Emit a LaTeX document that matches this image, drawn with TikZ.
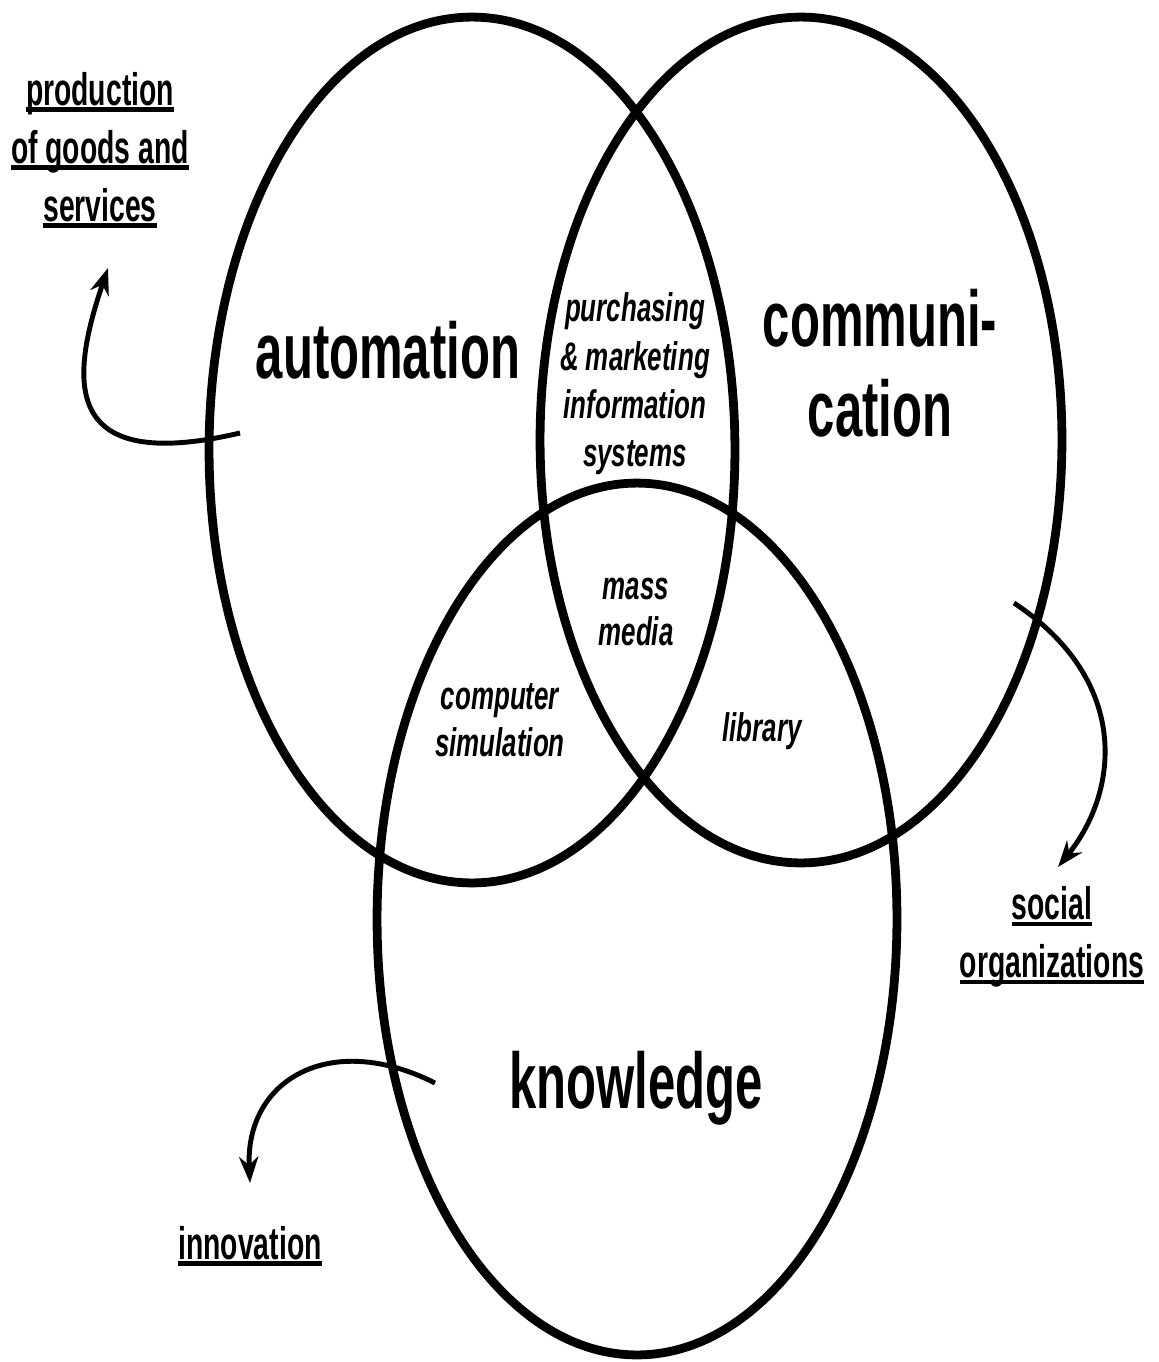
\documentclass[tikz,border=0pt]{standalone}
\usepackage{fontspec}
\setmainfont{Liberation Sans}
\newfontfamily\condfont[FakeStretch=0.62]{Liberation Sans}
\newfontfamily\slantfont[FakeStretch=0.65]{Liberation Sans}
\usetikzlibrary{arrows.meta}
\newcommand{\ulbar}[1]{\setbox0\hbox{#1}\rlap{\rule[-3.5pt]{\wd0}{2.4pt}}\box0}

\begin{document}
\begin{tikzpicture}[x=0.02cm,y=-0.02cm,>={Stealth[length=15pt,width=11pt]},semithick]
    \tikzset{ring/.style={line width=5pt},
             flow/.style={->,line width=2.8pt},
             big/.style={font=\condfont\bfseries\fontsize{45}{51}\selectfont,align=center,inner sep=0pt},
             small/.style={font=\slantfont\bfseries\itshape\fontsize{22.7}{27.5}\selectfont,align=center,inner sep=0pt},
             goal/.style={font=\condfont\bfseries\fontsize{26}{33}\selectfont,align=center,inner sep=0pt}}
    \useasboundingbox (0,0) rectangle (1159,1362);
    \coordinate (auto) at (472,450);
    \coordinate (comm) at (801,440);
    \coordinate (know) at (637,919);
    \draw[ring] (auto) ellipse [x radius=5.26cm, y radius=8.66cm];
    \draw[ring] (comm) ellipse [x radius=5.22cm, y radius=8.46cm];
    \draw[ring] (know) ellipse [x radius=5.2cm, y radius=8.72cm];
    \node[big] (automation) at (388,350) {automation};
    \node[big] (communication) at (880,363) {communi-\\cation};
    \node[big] (knowledge) at (636,1088) {knowledge};
    \node[small] (purchasing) at (635,384) {purchasing\\\& marketing\\information\\systems};
    \node[small,font=\slantfont\bfseries\itshape\fontsize{22.7}{26.6}\selectfont] (media) at (636,612) {mass\\media};
    \node[small,font=\slantfont\bfseries\itshape\fontsize{22.7}{26.6}\selectfont] (simulation) at (500,720) {computer\\simulation};
    \node[small] (library) at (762,731) {library};
    \node[goal] (production) at (100,150) {\ulbar{production}\\\ulbar{of goods and}\\\ulbar{services}};
    \node[goal] (social) at (1052,937) {\ulbar{social}\\\ulbar{organizations}};
    \node[goal] (innovation) at (250,1246) {\ulbar{innovation}};
    \coordinate (autotail) at (240,433);
    \coordinate (prodtip) at (108,268);
    \coordinate (commtail) at (1014,603);
    \coordinate (soctip) at (1058,867);
    \coordinate (knowtail) at (435,1083);
    \coordinate (innotip) at (250,1183);
    \draw[flow] (autotail) .. controls +(-180,42) and +(-38,112) .. (prodtip);
    \draw[flow] (commtail) .. controls +(116,77) and +(62,-77) .. (soctip);
    \draw[flow] (knowtail) .. controls +(-105,-53) and +(-5,-103) .. (innotip);
\end{tikzpicture}
\end{document}
